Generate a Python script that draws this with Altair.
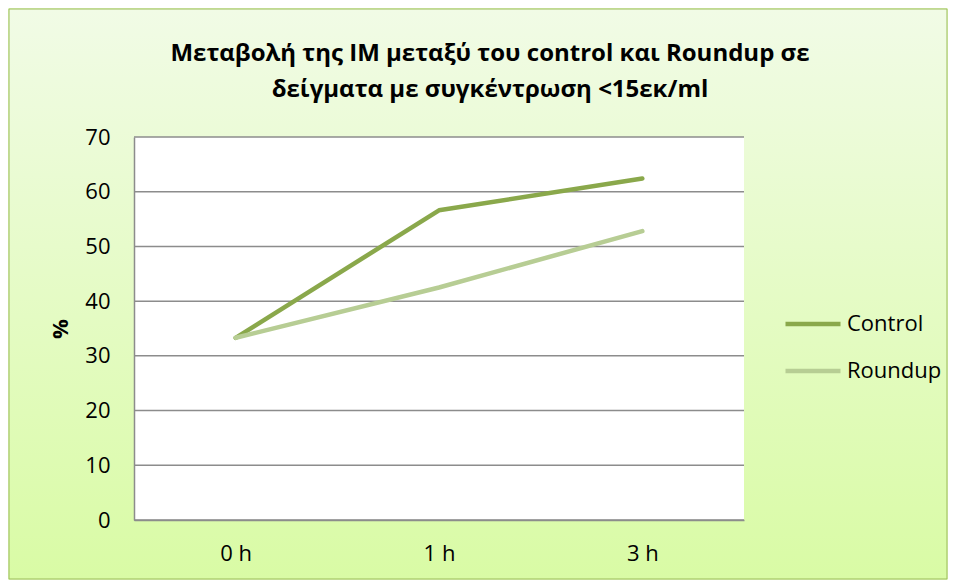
import altair as alt
import pandas as pd

times = ["0 h", "1 h", "3 h"]
control = [33.3, 56.6, 62.4]
roundup = [33.3, 42.5, 52.8]
series_names = ["Control", "Roundup"]
y_ticks = [0, 10, 20, 30, 40, 50, 60, 70]
title_lines = ["Μεταβολή της ΙΜ μεταξύ του control και Roundup σε",
               "δείγματα με συγκέντρωση <15εκ/ml"]

W, H = 610, 383
PL, PT, PR, PB = 126, 129, 204, 60
FONT = "Open Sans"
FS = 22

rows = []
for name, vals in zip(series_names, [control, roundup]):
    for t, v in zip(times, vals):
        rows.append({"time": t, "value": v, "series": name})
df = pd.DataFrame(rows)
one = pd.DataFrame({"a": [0]})
grid_df = pd.DataFrame({"value": y_ticks})
title_df = pd.DataFrame({"t": ["\n".join(title_lines)]})

bg = alt.Chart(one).mark_rect(
    fill=alt.Gradient(
        gradient="linear", x1=0, y1=0, x2=0, y2=1,
        stops=[alt.GradientStop(offset=0, color="#F1FBE6"),
               alt.GradientStop(offset=1, color="#D9FBA5")]),
    stroke="#9BBB59", strokeWidth=1,
).encode(x=alt.value(-PL + 1), x2=alt.value(W + PR - 1),
         y=alt.value(-PT + 1), y2=alt.value(H + PB - 1))

plot_bg = alt.Chart(one).mark_rect(fill="white").encode(
    x=alt.value(0), x2=alt.value(W), y=alt.value(0), y2=alt.value(H))

title = alt.Chart(title_df).mark_text(
    font=FONT, fontSize=24, fontWeight="bold", color="#000",
    align="center", baseline="top", lineBreak="\n", lineHeight=36,
).encode(text="t:N", x=alt.value(356), y=alt.value(-95))

yscale = alt.Scale(domain=[0, 70], nice=False)
yaxis = alt.Axis(title="%", values=y_ticks, ticks=False, grid=False, domain=True,
                 domainColor="#8C8C8C", domainWidth=1.5, labelPadding=24,
                 labelFontSize=FS, labelFont=FONT, labelColor="#000",
                 titleFont=FONT, titleFontSize=FS, titleFontWeight="bold",
                 titleColor="#000", titlePadding=12, zindex=1)

grid = alt.Chart(grid_df).mark_rule(color="#8C8C8C", strokeWidth=1.5).encode(
    y=alt.Y("value:Q", scale=yscale, axis=yaxis),
    x=alt.value(0), x2=alt.value(W))

lines = alt.Chart(df).mark_line(strokeWidth=4.5, strokeCap="round", strokeJoin="round").encode(
    x=alt.X("time:N", sort=times, scale=alt.Scale(paddingInner=0, paddingOuter=0.5, align=0.5),
            axis=alt.Axis(title=None, labelAngle=0, ticks=False, grid=False, domain=True,
                          domainColor="#8C8C8C", domainWidth=1.5, labelPadding=23,
                          labelFontSize=FS, labelFont=FONT, labelColor="#000", zindex=1)),
    y=alt.Y("value:Q", scale=yscale, axis=yaxis),
    color=alt.Color("series:N", sort=series_names,
                    scale=alt.Scale(domain=series_names, range=["#8AA84B", "#B7CD94"]),
                    legend=alt.Legend(title=None, orient="none", legendX=649, legendY=157,
                                      symbolType="stroke", symbolSize=3025, symbolStrokeWidth=4.5,
                                      labelFontSize=FS, labelFont=FONT, labelColor="#000",
                                      labelOffset=4, rowPadding=6)),
)

chart = alt.layer(bg, plot_bg, title, grid, lines).properties(
    width=W, height=H,
    padding={"left": PL, "top": PT, "right": PR, "bottom": PB},
    autosize=alt.AutoSizeParams(type="none"),
).configure_view(stroke=None).configure(background="#E6FAC8")

chart.save("out.html", embed_options={"renderer": "svg", "actions": False})
